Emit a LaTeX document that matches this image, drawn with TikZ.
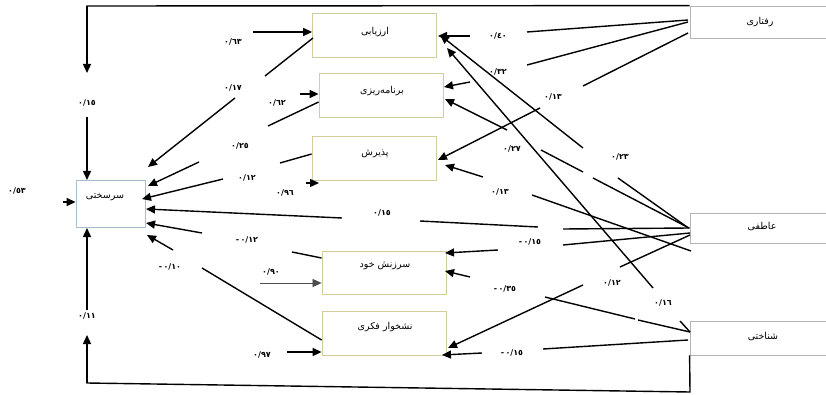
\documentclass[tikz,border=0pt]{standalone}
\usepackage{fontspec}
\usetikzlibrary{arrows.meta}
\newfontfamily\fa[Script=Arabic]{DejaVu Sans}
\newfontfamily\fab[Script=Arabic]{DejaVu Sans Bold}
\TeXXeTstate=1
\definecolor{boxy}{HTML}{D4CC9C}
\definecolor{boxb}{HTML}{A9BFD0}
\definecolor{boxg}{HTML}{B4B4B4}
\newcommand{\mn}{\mbox{-}}
\begin{document}
\begin{tikzpicture}[x=1pt,y=-1pt,
  ln/.style={line width=1.4pt},
  ar/.style={line width=1.4pt,-{Triangle[length=9pt,width=8pt]}},
  thinar/.style={line width=0.7pt,draw=black!70,-{Triangle[length=9pt,width=8pt]}},
  pbox/.style={draw=boxy,line width=0.8pt,rectangle,inner sep=0pt,minimum width=124pt,minimum height=44pt},
  bbox/.style={draw=boxb,line width=0.8pt,rectangle,inner sep=0pt,minimum width=69pt,minimum height=47pt},
  gbox/.style={draw=boxg,line width=0.8pt,rectangle,inner sep=0pt,minimum width=140pt},
  num/.style={font=\fab\fontsize{8}{9}\selectfont,inner sep=0pt},
  wrd/.style={font=\fa\fontsize{9.5}{11}\selectfont,inner sep=0pt}]
\useasboundingbox (0,0) rectangle (826,395);
\fill[white] (0,0) rectangle (826,395);

% boxes
\node[pbox] (arz) at (374.5,35) {};
\node[pbox] (bar) at (381,95) {};
\node[pbox] (pad) at (374,158) {};
\node[pbox,minimum height=43pt] (sar) at (384,272.5) {};
\node[pbox] (nash) at (384,333) {};
\node[bbox] (sars) at (110.5,203.5) {};
\node[gbox,minimum height=32pt] (raft) at (760,22) {};
\node[gbox,minimum height=30pt] (atef) at (760,228) {};
\node[gbox,minimum height=34pt] (shen) at (760,338) {};

% box texts
\node[wrd] (tarz) at (375,32) {\beginR ارزیابی\endR};
\node[wrd] (tbar) at (382,91) {\beginR برنامه‌ریزی\endR};
\node[wrd] (tpad) at (375,154) {\beginR پذیرش\endR};
\node[wrd] (tsar) at (385,266) {\beginR سرزنش خود\endR};
\node[wrd] (tnash) at (385,327) {\beginR نشخوار فکری\endR};
\node[wrd] (tsars) at (105,197) {\beginR سرسختی\endR};
\node[wrd] (traft) at (760,22) {\beginR رفتاری\endR};
\node[wrd] (tatef) at (762,227) {\beginR عاطفی\endR};
\node[wrd] (tshen) at (763,337) {\beginR شناختی\endR};

% labels
\node[num] (l63) at (233,42) {٠/٦٣};
\node[num] (l17) at (233,88) {٠/١٧};
\node[num] (l62) at (277,103) {٠/٦٢};
\node[num] (l25) at (240,146) {٠/٢٥};
\node[num] (l12a) at (247,178) {٠/١٢};
\node[num] (l96) at (285,193) {٠/٩٦};
\node[num] (l53) at (17,191) {٠/٥٣};
\node[num] (l15a) at (87,103) {٠/١٥};
\node[num] (l15b) at (382,213) {٠/١٥};
\node[num] (l12b) at (247,240) {\mn\,٠/١٢};
\node[num] (l10) at (170,267) {\mn\,٠/١٠};
\node[num] (l90) at (271,272) {٠/٩٠};
\node[num] (l97) at (262,355) {٠/٩٧};
\node[num] (l11) at (87,316) {٠/١١};
\node[num] (l40) at (498,36) {٠/٤٠};
\node[num] (l32) at (498,72) {٠/٣٢};
\node[num] (l13a) at (553,97) {٠/١٣};
\node[num] (l27) at (512,149) {٠/٢٧};
\node[num] (l13b) at (500,192) {٠/١٣};
\node[num] (l23) at (620,157) {٠/٢٣};
\node[num] (l15c) at (530,242) {\mn\,٠/١٥};
\node[num] (l35) at (505,289) {\mn\,٠/٣٥};
\node[num] (l12c) at (612,283) {٠/١٢};
\node[num] (l16) at (663,303) {٠/١٦};
\node[num] (l15d) at (512,353) {\mn\,٠/١٥};

% top and bottom loops
\draw[ln] (raft.north west) -- (87,6) -- (87,8);
\draw[ar] (87,6) -- (87,73);
\draw[ar] (87,117) -- (87,180);
\draw[ln] (shen.south west) -- (690,392) -- (87,383) -- (87,380);
\draw[ar] (87,383) -- (87,335);
\draw[ar] (87,310) -- (87,228);

% error arrows
\draw[ar] (253,32) -- (arz.west |- 0,32);
\draw[ar] (300,94) -- (bar.west |- 0,94);
\draw[ar] (306,183) -- (319,183);
\draw[thinar] (260,283) -- (sar.west |- 0,283);
\draw[ar] (287,352) -- (nash.west |- 0,352);
\draw[ar] (63,202) -- (sars.west |- 0,202);

% into sarsakhti
\draw[ln] (313,38) -- (265,76);
\draw[ar] (235,98) -- (148,167);
\draw[ln] (bar.west |- 0,102) -- (268,126);
\draw[ar] (199,162) -- (148,186);
\draw[ln] (pad.west |- 0,154) -- (280,163);
\draw[ar] (223,179) -- (142,199);
\draw[ln] (atef.west) -- (563,229);
\draw[ln] (538,227) -- (420,221);
\draw[ar] (342,218) -- (146,209);
\draw[ln] (sar.west |- 0,258) -- (292,252);
\draw[ar] (202,233) -- (146,223);
\draw[ln] (nash.west |- 0,340) -- (202,268);
\draw[ar] (173,250) -- (147,235);

% from raftari
\draw[ln] (688,20) -- (527,32);
\draw[ar] (470,36) -- (438,36);
\draw[ln] (688,22) -- (527,65);
\draw[ar] (470,82) -- (444,87);
\draw[ln] (688,33) -- (583,86);
\draw[ar] (540,108) -- (438,160);

% from atefi
\draw[ln] (687,227) -- (618,178);
\draw[ar] (583,148) -- (440,35);
\draw[ln] (689,228) -- (593,178);
\draw[ln] (583,172) -- (541,150);
\draw[ar] (507,130) -- (445,99);
\draw[ln] (691,251) -- (532,195);
\draw[ar] (483,177) -- (445,165);
\draw[ln] (690,233) -- (563,245);
\draw[ar] (498,250) -- (445,253);
\draw[ln] (690,235) -- (620,267);
\draw[ar] (583,285) -- (448,348);

% from shenakhti
\draw[ln] (690,332) -- (680,321);
\draw[ar] (653,288) -- (447,48);
\draw[ln] (690,332) -- (638,320);
\draw[ln] (635,319) -- (545,297);
\draw[ar] (470,277) -- (445,271);
\draw[ln] (688,340) -- (543,349);
\draw[ar] (482,353) -- (442,355);
\end{tikzpicture}
\end{document}
